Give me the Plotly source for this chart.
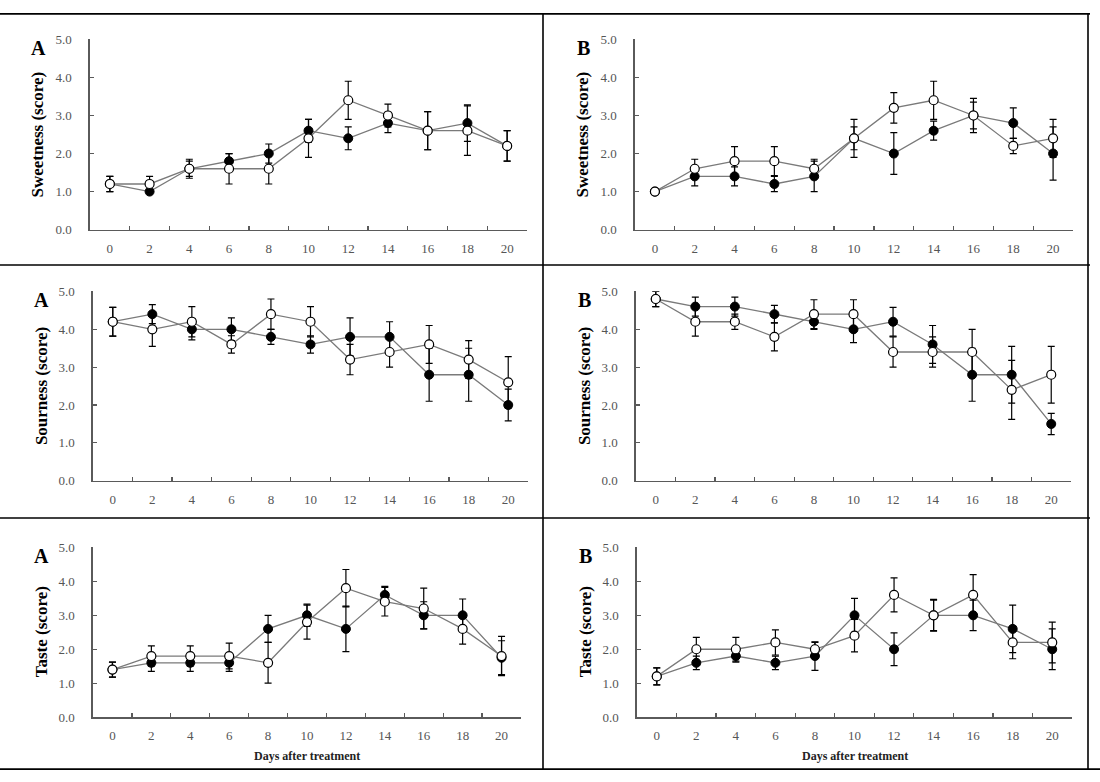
import plotly.graph_objects as go

W, H = 1100, 782

days = ["0", "2", "4", "6", "8", "10", "12", "14", "16", "18", "20"]

# Sweetness A
sweet_a_filled = [1.2, 1.0, 1.6, 1.8, 2.0, 2.6, 2.4, 2.8, 2.6, 2.8, 2.2]
sweet_a_filled_err = [0.2, 0.0, 0.25, 0.2, 0.25, 0.3, 0.3, 0.25, 0.5, 0.48, 0.4]
sweet_a_open = [1.2, 1.2, 1.6, 1.6, 1.6, 2.4, 3.4, 3.0, 2.6, 2.6, 2.2]
sweet_a_open_err = [0.2, 0.2, 0.2, 0.4, 0.4, 0.5, 0.5, 0.3, 0.5, 0.65, 0.4]

# Sweetness B
sweet_b_filled = [1.0, 1.4, 1.4, 1.2, 1.4, 2.4, 2.0, 2.6, 3.0, 2.8, 2.0]
sweet_b_filled_err = [0.0, 0.25, 0.25, 0.2, 0.4, 0.3, 0.55, 0.25, 0.35, 0.4, 0.7]
sweet_b_open = [1.0, 1.6, 1.8, 1.8, 1.6, 2.4, 3.2, 3.4, 3.0, 2.2, 2.4]
sweet_b_open_err = [0.0, 0.25, 0.38, 0.38, 0.25, 0.5, 0.4, 0.5, 0.45, 0.2, 0.5]

# Sourness A
sour_a_filled = [4.2, 4.4, 4.0, 4.0, 3.8, 3.6, 3.8, 3.8, 2.8, 2.8, 2.0]
sour_a_filled_err = [0.38, 0.25, 0.28, 0.3, 0.2, 0.23, 0.5, 0.4, 0.7, 0.7, 0.42]
sour_a_open = [4.2, 4.0, 4.2, 3.6, 4.4, 4.2, 3.2, 3.4, 3.6, 3.2, 2.6]
sour_a_open_err = [0.38, 0.45, 0.4, 0.23, 0.4, 0.4, 0.4, 0.4, 0.5, 0.5, 0.68]

# Sourness B
sour_b_filled = [4.8, 4.6, 4.6, 4.4, 4.2, 4.0, 4.2, 3.6, 2.8, 2.8, 1.5]
sour_b_filled_err = [0.2, 0.25, 0.25, 0.23, 0.2, 0.35, 0.38, 0.5, 0.7, 0.75, 0.28]
sour_b_open = [4.8, 4.2, 4.2, 3.8, 4.4, 4.4, 3.4, 3.4, 3.4, 2.4, 2.8]
sour_b_open_err = [0.2, 0.38, 0.2, 0.37, 0.38, 0.38, 0.4, 0.4, 0.6, 0.78, 0.75]

# Taste A
taste_a_filled = [1.4, 1.6, 1.6, 1.6, 2.6, 3.0, 2.6, 3.6, 3.0, 3.0, 1.75]
taste_a_filled_err = [0.22, 0.25, 0.25, 0.25, 0.4, 0.33, 0.67, 0.25, 0.4, 0.48, 0.5]
taste_a_open = [1.4, 1.8, 1.8, 1.8, 1.6, 2.8, 3.8, 3.4, 3.2, 2.6, 1.8]
taste_a_open_err = [0.22, 0.3, 0.3, 0.38, 0.6, 0.5, 0.55, 0.42, 0.6, 0.45, 0.58]

# Taste B
taste_b_filled = [1.2, 1.6, 1.8, 1.6, 1.8, 3.0, 2.0, 3.0, 3.0, 2.6, 2.0]
taste_b_filled_err = [0.25, 0.2, 0.18, 0.2, 0.42, 0.5, 0.48, 0.45, 0.45, 0.7, 0.6]
taste_b_open = [1.2, 2.0, 2.0, 2.2, 2.0, 2.4, 3.6, 3.0, 3.6, 2.2, 2.2]
taste_b_open_err = [0.25, 0.35, 0.35, 0.37, 0.2, 0.48, 0.5, 0.47, 0.6, 0.48, 0.6]

y_titles = ["Sweetness (score)", "Sourness (score)", "Taste (score)"]
panel_letters = ["A", "B"]
y_ticks = [0, 1, 2, 3, 4, 5]

panels = [
    (sweet_a_filled, sweet_a_filled_err, sweet_a_open, sweet_a_open_err),
    (sweet_b_filled, sweet_b_filled_err, sweet_b_open, sweet_b_open_err),
    (sour_a_filled, sour_a_filled_err, sour_a_open, sour_a_open_err),
    (sour_b_filled, sour_b_filled_err, sour_b_open, sour_b_open_err),
    (taste_a_filled, taste_a_filled_err, taste_a_open, taste_a_open_err),
    (taste_b_filled, taste_b_filled_err, taste_b_open, taste_b_open_err),
]

# plot areas in pixels: (x0, x1, ytop, ybottom)
boxes = [
    (90, 527, 33, 227), (635, 1073, 33, 227),
    (93, 528, 290, 483), (636, 1071, 290, 483),
    (93, 521, 551, 724), (637, 1072, 551, 724),
]

SERIF = "Liberation Serif, Times New Roman, serif"
LINE_C = "#7a7a7a"
AXIS_C = "#5a5a5a"
TICK_FONT = dict(family=SERIF, size=13, color="#555555")

fig = go.Figure()
layout = dict(
    width=W, height=H,
    margin=dict(l=0, r=0, t=0, b=0),
    paper_bgcolor="white", plot_bgcolor="white",
    showlegend=False,
)

annotations = []
shapes = []

for i, (pf, pfe, po, poe) in enumerate(panels):
    n = i + 1
    xa = "x" if n == 1 else f"x{n}"
    ya = "y" if n == 1 else f"y{n}"
    x0, x1, yt, yb = boxes[i]
    fig.add_trace(go.Scatter(
        x=days, y=pf, xaxis=xa, yaxis=ya, mode="lines+markers",
        line=dict(color=LINE_C, width=1.3),
        marker=dict(symbol="circle", size=9, color="black", line=dict(color="black", width=1)),
        error_y=dict(type="data", array=pfe, visible=True, color="black", thickness=1.2, width=3.5),
        cliponaxis=False, hoverinfo="skip",
    ))
    fig.add_trace(go.Scatter(
        x=days, y=po, xaxis=xa, yaxis=ya, mode="lines+markers",
        line=dict(color=LINE_C, width=1.3),
        marker=dict(symbol="circle", size=9, color="white", line=dict(color="black", width=1.2)),
        error_y=dict(type="data", array=poe, visible=True, color="black", thickness=1.2, width=3.5),
        cliponaxis=False, hoverinfo="skip",
    ))
    xkey = "xaxis" if n == 1 else f"xaxis{n}"
    ykey = "yaxis" if n == 1 else f"yaxis{n}"
    layout[xkey] = dict(
        domain=[x0 / W, x1 / W], anchor=ya, type="category",
        range=[-0.5, 10.5], tickson="boundaries",
        ticks="inside", ticklen=4, tickwidth=1.2, tickcolor=AXIS_C,
        showline=True, linecolor=AXIS_C, linewidth=1.6,
        showgrid=False, zeroline=False, tickfont=TICK_FONT,
        ticklabelstandoff=6, fixedrange=True,
    )
    layout[ykey] = dict(
        domain=[1 - yb / H, 1 - yt / H], anchor=xa,
        range=[0, 5], tickvals=y_ticks, tickformat=".1f",
        ticks="inside", ticklen=4, tickwidth=1.2, tickcolor=AXIS_C,
        showline=True, linecolor=AXIS_C, linewidth=1.6,
        showgrid=False, zeroline=False, tickfont=TICK_FONT,
        ticklabelstandoff=14, fixedrange=True,
    )
    row = i // 2
    col = i % 2
    # panel letter
    annotations.append(dict(
        text=f"<b>{panel_letters[col]}</b>", xref="paper", yref="paper",
        x=(x0 - 52) / W, y=1 - (yt + 9) / H, xanchor="center", yanchor="middle",
        showarrow=False, font=dict(family=SERIF, size=20, color="black"),
    ))
    # y title
    annotations.append(dict(
        text=f"<b>{y_titles[row]}</b>", xref="paper", yref="paper",
        x=(x0 - 52) / W, y=1 - ((yt + yb) / 2) / H, xanchor="center", yanchor="middle",
        textangle=-90, showarrow=False, font=dict(family=SERIF, size=17, color="black"),
    ))
    if row == 2:
        annotations.append(dict(
            text="<b>Days after treatment</b>", xref="paper", yref="paper",
            x=((x0 + x1) / 2) / W, y=1 - 764 / H, xanchor="center", yanchor="middle",
            showarrow=False, font=dict(family=SERIF, size=12, color="#222222"),
        ))

# table lines
def hline(ypx, xa=0, xb=W):
    return dict(type="line", xref="paper", yref="paper", x0=xa / W, x1=xb / W,
                y0=1 - ypx / H, y1=1 - ypx / H, line=dict(color="black", width=1.6))

def vline(xpx, ya, yb):
    return dict(type="line", xref="paper", yref="paper", x0=xpx / W, x1=xpx / W,
                y0=1 - ya / H, y1=1 - yb / H, line=dict(color="black", width=1.6))

shapes += [hline(7, 0, 1090), hline(263, 0, 1090), hline(521, 0, 1090), hline(777, 0, 1100),
           vline(543, 7, 777), vline(1088, 7, 777)]

layout["annotations"] = annotations
layout["shapes"] = shapes
fig.update_layout(**layout)

fig.write_html(
    "out.html",
    config={"displayModeBar": False, "staticPlot": True},
    post_script="document.body.style.margin='0';document.body.style.padding='0';document.body.style.overflow='hidden';",
)
